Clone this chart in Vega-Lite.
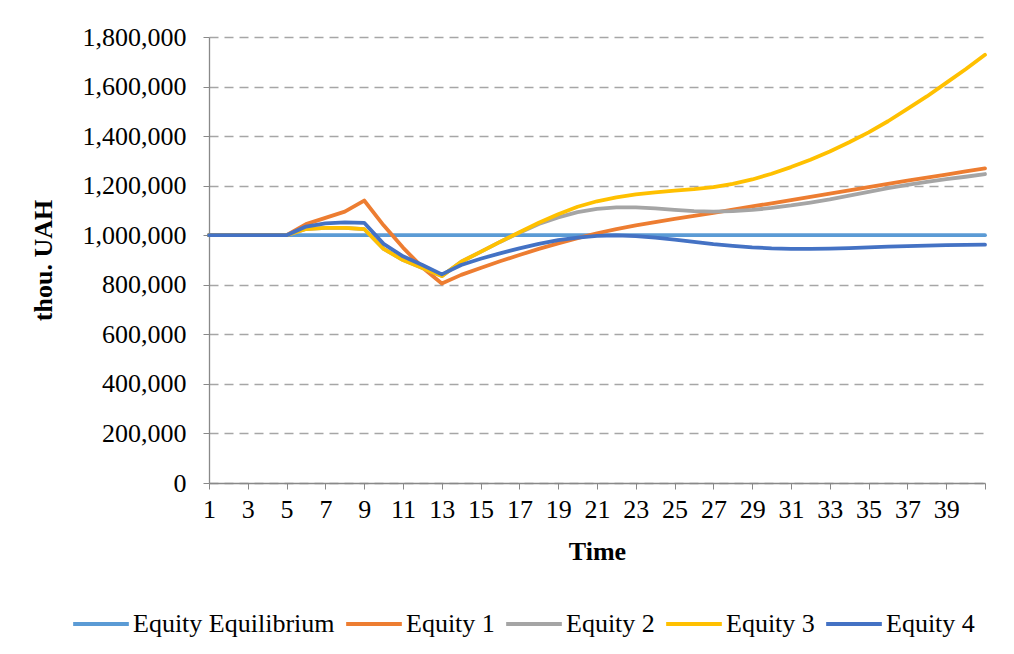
{
  "$schema": "https://vega.github.io/schema/vega-lite/v6.json",
  "width": 776,
  "height": 446,
  "autosize": {"type": "none"},
  "padding": {"left": 209, "top": 37, "right": 29, "bottom": 171},
  "background": "white",
  "config": {
    "view": {"stroke": null},
    "font": "Liberation Serif"
  },
  "data": {
    "values": [
      {"t": 1, "Equity Equilibrium": 1000000, "Equity 1": 1000000, "Equity 2": 1000000, "Equity 3": 1000000, "Equity 4": 1000000},
      {"t": 2, "Equity Equilibrium": 1000000, "Equity 1": 1000000, "Equity 2": 1000000, "Equity 3": 1000000, "Equity 4": 1000000},
      {"t": 3, "Equity Equilibrium": 1000000, "Equity 1": 1000000, "Equity 2": 1000000, "Equity 3": 1000000, "Equity 4": 1000000},
      {"t": 4, "Equity Equilibrium": 1000000, "Equity 1": 1000000, "Equity 2": 1000000, "Equity 3": 1000000, "Equity 4": 1000000},
      {"t": 5, "Equity Equilibrium": 1000000, "Equity 1": 1000000, "Equity 2": 1000000, "Equity 3": 1000000, "Equity 4": 1000000},
      {"t": 6, "Equity Equilibrium": 1000000, "Equity 1": 1045000, "Equity 2": 1025000, "Equity 3": 1025000, "Equity 4": 1035000},
      {"t": 7, "Equity Equilibrium": 1000000, "Equity 1": 1070000, "Equity 2": 1030000, "Equity 3": 1030000, "Equity 4": 1048000},
      {"t": 8, "Equity Equilibrium": 1000000, "Equity 1": 1095000, "Equity 2": 1030000, "Equity 3": 1030000, "Equity 4": 1052000},
      {"t": 9, "Equity Equilibrium": 1000000, "Equity 1": 1140000, "Equity 2": 1025000, "Equity 3": 1025000, "Equity 4": 1050000},
      {"t": 10, "Equity Equilibrium": 1000000, "Equity 1": 1040000, "Equity 2": 945000, "Equity 3": 945000, "Equity 4": 965000},
      {"t": 11, "Equity Equilibrium": 1000000, "Equity 1": 950000, "Equity 2": 900000, "Equity 3": 900000, "Equity 4": 915000},
      {"t": 12, "Equity Equilibrium": 1000000, "Equity 1": 870000, "Equity 2": 868000, "Equity 3": 868000, "Equity 4": 880000},
      {"t": 13, "Equity Equilibrium": 1000000, "Equity 1": 805000, "Equity 2": 835000, "Equity 3": 835000, "Equity 4": 842000},
      {"t": 14, "Equity Equilibrium": 1000000, "Equity 1": 840000, "Equity 2": 893000, "Equity 3": 893000, "Equity 4": 880000},
      {"t": 15, "Equity Equilibrium": 1000000, "Equity 1": 868000, "Equity 2": 933000, "Equity 3": 933000, "Equity 4": 905000},
      {"t": 16, "Equity Equilibrium": 1000000, "Equity 1": 895000, "Equity 2": 973000, "Equity 3": 973000, "Equity 4": 927000},
      {"t": 17, "Equity Equilibrium": 1000000, "Equity 1": 920000, "Equity 2": 1010000, "Equity 3": 1012000, "Equity 4": 947000},
      {"t": 18, "Equity Equilibrium": 1000000, "Equity 1": 945000, "Equity 2": 1045000, "Equity 3": 1050000, "Equity 4": 965000},
      {"t": 19, "Equity Equilibrium": 1000000, "Equity 1": 967000, "Equity 2": 1072000, "Equity 3": 1085000, "Equity 4": 980000},
      {"t": 20, "Equity Equilibrium": 1000000, "Equity 1": 988000, "Equity 2": 1093000, "Equity 3": 1115000, "Equity 4": 990000},
      {"t": 21, "Equity Equilibrium": 1000000, "Equity 1": 1008000, "Equity 2": 1106000, "Equity 3": 1137000, "Equity 4": 997000},
      {"t": 22, "Equity Equilibrium": 1000000, "Equity 1": 1025000, "Equity 2": 1112000, "Equity 3": 1153000, "Equity 4": 999000},
      {"t": 23, "Equity Equilibrium": 1000000, "Equity 1": 1040000, "Equity 2": 1112000, "Equity 3": 1165000, "Equity 4": 996000},
      {"t": 24, "Equity Equilibrium": 1000000, "Equity 1": 1053000, "Equity 2": 1108000, "Equity 3": 1173000, "Equity 4": 990000},
      {"t": 25, "Equity Equilibrium": 1000000, "Equity 1": 1066000, "Equity 2": 1102000, "Equity 3": 1180000, "Equity 4": 982000},
      {"t": 26, "Equity Equilibrium": 1000000, "Equity 1": 1078000, "Equity 2": 1097000, "Equity 3": 1186000, "Equity 4": 973000},
      {"t": 27, "Equity Equilibrium": 1000000, "Equity 1": 1090000, "Equity 2": 1095000, "Equity 3": 1194000, "Equity 4": 964000},
      {"t": 28, "Equity Equilibrium": 1000000, "Equity 1": 1103000, "Equity 2": 1097000, "Equity 3": 1207000, "Equity 4": 957000},
      {"t": 29, "Equity Equilibrium": 1000000, "Equity 1": 1116000, "Equity 2": 1102000, "Equity 3": 1225000, "Equity 4": 951000},
      {"t": 30, "Equity Equilibrium": 1000000, "Equity 1": 1129000, "Equity 2": 1110000, "Equity 3": 1248000, "Equity 4": 947000},
      {"t": 31, "Equity Equilibrium": 1000000, "Equity 1": 1142000, "Equity 2": 1120000, "Equity 3": 1275000, "Equity 4": 945000},
      {"t": 32, "Equity Equilibrium": 1000000, "Equity 1": 1155000, "Equity 2": 1132000, "Equity 3": 1305000, "Equity 4": 945000},
      {"t": 33, "Equity Equilibrium": 1000000, "Equity 1": 1168000, "Equity 2": 1145000, "Equity 3": 1338000, "Equity 4": 946000},
      {"t": 34, "Equity Equilibrium": 1000000, "Equity 1": 1181000, "Equity 2": 1160000, "Equity 3": 1375000, "Equity 4": 948000},
      {"t": 35, "Equity Equilibrium": 1000000, "Equity 1": 1194000, "Equity 2": 1175000, "Equity 3": 1415000, "Equity 4": 951000},
      {"t": 36, "Equity Equilibrium": 1000000, "Equity 1": 1207000, "Equity 2": 1190000, "Equity 3": 1460000, "Equity 4": 954000},
      {"t": 37, "Equity Equilibrium": 1000000, "Equity 1": 1220000, "Equity 2": 1203000, "Equity 3": 1510000, "Equity 4": 956000},
      {"t": 38, "Equity Equilibrium": 1000000, "Equity 1": 1232000, "Equity 2": 1215000, "Equity 3": 1560000, "Equity 4": 958000},
      {"t": 39, "Equity Equilibrium": 1000000, "Equity 1": 1245000, "Equity 2": 1226000, "Equity 3": 1615000, "Equity 4": 960000},
      {"t": 40, "Equity Equilibrium": 1000000, "Equity 1": 1258000, "Equity 2": 1236000, "Equity 3": 1670000, "Equity 4": 961000},
      {"t": 41, "Equity Equilibrium": 1000000, "Equity 1": 1270000, "Equity 2": 1247000, "Equity 3": 1728000, "Equity 4": 962000}
    ]
  },
  "transform": [
    {"fold": ["Equity Equilibrium", "Equity 1", "Equity 2", "Equity 3", "Equity 4"], "as": ["series", "v"]}
  ],
  "mark": {"type": "line", "strokeWidth": 3.8, "interpolate": "linear", "strokeJoin": "round", "strokeCap": "round", "clip": false},
  "encoding": {
    "x": {
      "field": "t",
      "type": "quantitative",
      "scale": {"domain": [1, 41], "nice": false, "zero": false},
      "axis": {
        "title": "Time",
        "values": [1, 3, 5, 7, 9, 11, 13, 15, 17, 19, 21, 23, 25, 27, 29, 31, 33, 35, 37, 39, 41],
        "labelExpr": "datum.value == 41 ? '' : datum.label",
        "grid": false,
        "domainColor": "#898989",
        "domainWidth": 1.3,
        "tickColor": "#898989",
        "tickSize": 6,
        "labelFont": "Liberation Serif",
        "labelFontSize": 26,
        "labelColor": "#000000",
        "labelPadding": 7,
        "labelFlush": false,
        "labelOverlap": false,
        "titleFont": "Liberation Serif",
        "titleFontSize": 26,
        "titleFontWeight": "bold",
        "titleColor": "#000000",
        "titlePadding": 16
      }
    },
    "y": {
      "field": "v",
      "type": "quantitative",
      "scale": {"domain": [0, 1800000], "nice": false},
      "axis": {
        "title": "thou. UAH",
        "values": [0, 200000, 400000, 600000, 800000, 1000000, 1200000, 1400000, 1600000, 1800000],
        "format": ",.0f",
        "grid": true,
        "gridColor": "#A6A6A6",
        "gridDash": [9, 6],
        "gridWidth": 1.3,
        "domainColor": "#898989",
        "domainWidth": 1.3,
        "tickColor": "#898989",
        "tickSize": 6,
        "labelFont": "Liberation Serif",
        "labelFontSize": 26,
        "labelColor": "#000000",
        "labelPadding": 17,
        "titleFont": "Liberation Serif",
        "titleFontSize": 26,
        "titleFontWeight": "bold",
        "titleColor": "#000000",
        "titlePadding": 26
      }
    },
    "color": {
      "field": "series",
      "type": "nominal",
      "scale": {
        "domain": ["Equity Equilibrium", "Equity 1", "Equity 2", "Equity 3", "Equity 4"],
        "range": ["#5B9BD5", "#ED7D31", "#A5A5A5", "#FFC000", "#4472C4"]
      },
      "legend": {
        "title": null,
        "orient": "none",
        "direction": "horizontal",
        "legendX": -138,
        "legendY": 557,
        "symbolType": "stroke",
        "symbolSize": 3100,
        "symbolStrokeWidth": 3.8,
        "labelFont": "Liberation Serif",
        "labelFontSize": 26,
        "labelColor": "#000000",
        "labelOffset": 2,
        "columnPadding": 3,
        "labelLimit": 400
      }
    }
  }
}
